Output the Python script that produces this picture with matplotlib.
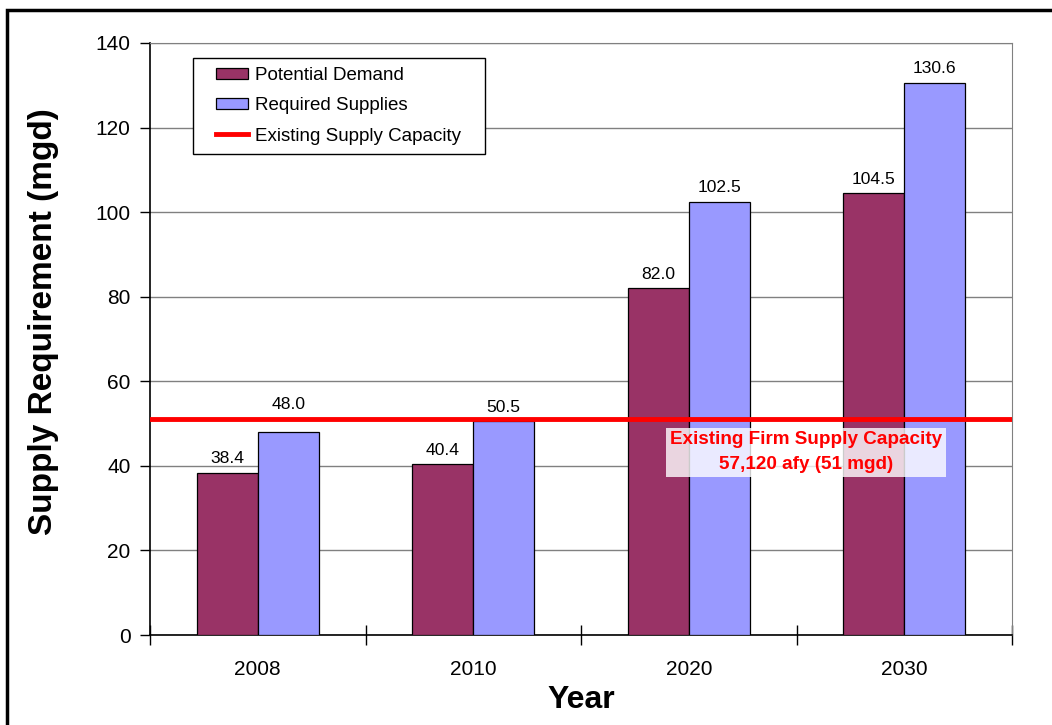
import numpy as np
import matplotlib.pyplot as plt
from matplotlib.patches import Rectangle
from matplotlib.lines import Line2D

plt.rcParams['font.family'] = ['Liberation Sans', 'DejaVu Sans']

# 数据
years = ['2008', '2010', '2020', '2030']
potential_demand = [38.4, 40.4, 82.0, 104.5]
required_supplies = [48.0, 50.5, 102.5, 130.6]
existing_capacity = 51

# 颜色
MAROON = '#993366'
BLUE = '#9999FF'
RED = '#FF0000'

fig = plt.figure(figsize=(10.52, 7.25), dpi=100)
ax = fig.add_axes([0.1426, 0.1241, 0.8194, 0.8166])

# 外框
fig.patches.append(Rectangle((7 / 1052, -0.05), 1.2, 1 - 10 / 725 + 0.05,
                             transform=fig.transFigure, fill=False,
                             edgecolor='black', linewidth=2.5))

x = np.arange(len(years))
w = 0.283
bars1 = ax.bar(x - w / 2, potential_demand, w, color=MAROON, edgecolor='black',
               linewidth=0.9, zorder=3)
bars2 = ax.bar(x + w / 2, required_supplies, w, color=BLUE, edgecolor='black',
               linewidth=0.9, zorder=3)

ax.axhline(existing_capacity, color=RED, linewidth=3.5, zorder=4)

# 数值标签（48.0 上移，避开红线）
offsets1 = [14, 14, 14, 14]
offsets2 = [28, 14, 14, 14]
for b, v, o in zip(bars1, potential_demand, offsets1):
    ax.annotate(f'{v:.1f}', (b.get_x() + b.get_width() / 2, v), xytext=(0, o),
                textcoords='offset pixels', ha='center', va='center', fontsize=12.6)
for b, v, o in zip(bars2, required_supplies, offsets2):
    ax.annotate(f'{v:.1f}', (b.get_x() + b.get_width() / 2, v), xytext=(0, o),
                textcoords='offset pixels', ha='center', va='center', fontsize=12.6)

# 标注
ax.text(2.544, 43.2, 'Existing Firm Supply Capacity\n57,120 afy (51 mgd)',
        ha='center', va='center', color=RED, fontsize=13.6, fontweight='bold',
        linespacing=1.6, zorder=5,
        bbox=dict(boxstyle='square,pad=0.2', facecolor='white', alpha=0.8,
                  edgecolor='none'))

ax.set_xlim(-0.5, 3.5)
ax.set_ylim(0, 140)
ax.set_yticks(np.arange(0, 141, 20))
ax.yaxis.grid(True, color='#808080', linewidth=1, zorder=0)
ax.set_axisbelow(True)

ax.set_xticks(x)
ax.set_xticklabels(years, fontsize=15)
ax.set_xticks(np.arange(-0.5, 3.6, 1), minor=True)
ax.tick_params(axis='x', which='major', length=0, pad=18)
ax.tick_params(axis='x', which='minor', length=15, direction='inout', width=1)
ax.tick_params(axis='y', labelsize=15, length=7, direction='out', width=1, pad=7)

for s in ['top', 'right']:
    ax.spines[s].set_color('#808080')
for s in ['left', 'bottom']:
    ax.spines[s].set_color('black')
    ax.spines[s].set_linewidth(1.2)

ax.set_xlabel('Year', fontsize=23, fontweight='bold', labelpad=4)
ax.set_ylabel('Supply Requirement (mgd)', fontsize=24, fontweight='bold', labelpad=26)
ax.yaxis.label.set_y(0.53)

handles = [Rectangle((0, 0), 1, 1, facecolor=MAROON, edgecolor='black', linewidth=0.9),
           Rectangle((0, 0), 1, 1, facecolor=BLUE, edgecolor='black', linewidth=0.9),
           Line2D([0], [0], color=RED, linewidth=3.5)]
leg = ax.legend(handles, ['Potential Demand', 'Required Supplies', 'Existing Supply Capacity'],
                loc='upper left', bbox_to_anchor=(0.0661, 0.9747), borderaxespad=0,
                fontsize=13.5, frameon=True, fancybox=False, framealpha=1,
                handlelength=1.7, handleheight=0.55, labelspacing=0.7,
                borderpad=0.5, handletextpad=0.37)
# 图例框左右留白更宽（上下不变）
frame = leg.get_frame()
frame.set_edgecolor('black')
frame.set_linewidth(1)
frame.set_boxstyle('square', pad=0.75)
frame.set_mutation_aspect(0.001)

fig.savefig('out.png', dpi=100)
